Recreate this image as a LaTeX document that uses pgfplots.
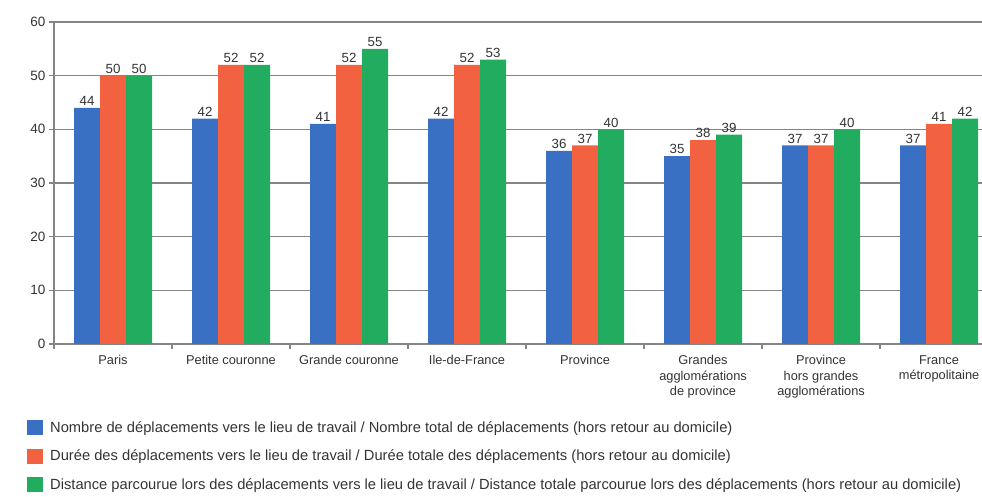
\documentclass[border=0pt]{standalone}
\usepackage{fontspec}
\setmainfont{Liberation Sans}
\usepackage{pgfplots}
\pgfplotsset{compat=1.18}

\definecolor{barblue}{HTML}{3A70C4}
\definecolor{barorange}{HTML}{F26240}
\definecolor{bargreen}{HTML}{22AC60}
\definecolor{gridgray}{HTML}{858585}
\definecolor{txt}{HTML}{333333}

\begin{document}
\begin{tikzpicture}
\useasboundingbox (0,0) rectangle (982pt,497pt);
\begin{axis}[
    at={(54pt,153pt)}, anchor=south west,
    scale only axis, width=928pt, height=322pt,
    ybar=0pt, bar width=26pt,
    xmin=-0.5, xmax=7.364,
    ymin=0, ymax=60,
    ytick={0,10,...,60},
    % ticks sit on the category boundaries, labels are shifted to the centres
    xtick={-0.5,0.5,...,6.5},
    xticklabels={Paris, Petite couronne, Grande couronne, Ile-de-France, Province,
      {Grandes\\agglomérations\\de province},
      {Province\\hors grandes\\agglomérations},
      {France\\métropolitaine}},
    xticklabel style={xshift=59pt, yshift=-3pt, align=center,
      font=\fontsize{12.8}{15.5}\selectfont, text=txt},
    yticklabel style={font=\fontsize{13.5}{15}\selectfont, text=txt},
    /pgf/number format/assume math mode=true,
    axis x line*=bottom, axis y line*=left,
    axis line style={-, draw=gridgray, line width=1.3pt},
    tick align=outside, major tick length=5pt,
    tick style={draw=gridgray, line width=1.3pt},
    ymajorgrids, grid style={draw=gridgray, line width=1.3pt},
    nodes near coords,
    every node near coord/.append style={font=\fontsize{13.3}{15}\selectfont, text=txt, inner sep=2pt},
    legend style={draw=none, fill=none, at={(-0.0291,-0.236)}, anchor=north west,
      inner sep=0pt, row sep=13.5pt, column sep=7pt,
      font=\fontsize{14.7}{16}\selectfont, text=txt,
      nodes={inner sep=0pt}},
    legend cell align=left,
    legend image code/.code={\fill[#1] (0pt,-7.5pt) rectangle (16pt,7.5pt);},
  ]
  \addplot[fill=barblue, draw=none] coordinates {
    (0,44) (1,42) (2,41) (3,42) (4,36) (5,35) (6,37) (7,37)};
  \addplot[fill=barorange, draw=none] coordinates {
    (0,50) (1,52) (2,52) (3,52) (4,37) (5,38) (6,37) (7,41)};
  \addplot[fill=bargreen, draw=none] coordinates {
    (0,50) (1,52) (2,55) (3,53) (4,40) (5,39) (6,40) (7,42)};
  \legend{Nombre de déplacements vers le lieu de travail / Nombre total de déplacements (hors retour au domicile),
    Durée des déplacements vers le lieu de travail / Durée totale des déplacements (hors retour au domicile),
    Distance parcourue lors des déplacements vers le lieu de travail / Distance totale parcourue lors des déplacements (hors retour au domicile)}
\end{axis}
\end{tikzpicture}
\end{document}
